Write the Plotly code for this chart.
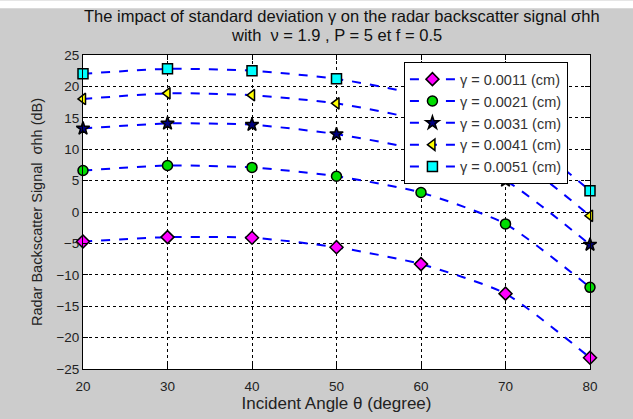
import plotly.graph_objects as go

angles = [20, 30, 40, 50, 60, 70, 80]
labels = ["γ = 0.0011 (cm)", "γ = 0.0021 (cm)", "γ = 0.0031 (cm)", "γ = 0.0041 (cm)", "γ = 0.0051 (cm)"]
s0011 = [-4.7, -4.0, -4.1, -5.6, -8.3, -13.0, -23.2]
s0021 = [6.6, 7.4, 7.1, 5.7, 3.1, -1.9, -12.0]
s0031 = [13.3, 14.1, 13.9, 12.4, 9.8, 5.0, -5.2]
s0041 = [18.0, 18.9, 18.6, 17.3, 14.6, 9.7, -0.6]
s0051 = [22.0, 22.8, 22.5, 21.2, 18.6, 13.8, 3.4]
series = [s0011, s0021, s0031, s0041, s0051]
symbols = ["diamond", "circle", "star", "triangle-left", "square"]
fills = ["#ff00ff", "#00dd00", "#000080", "#ffff00", "#00ffff"]
sizes = [10, 10, 10, 10, 10]
title1 = "The impact of standard deviation γ on the radar backscatter signal σhh"
title2 = "with  ν = 1.9 , P = 5 et f = 0.5"

fig = go.Figure()
for lab, ys, sym, col, sz in zip(labels, series, symbols, fills, sizes):
    fig.add_trace(go.Scatter(
        x=angles, y=ys, name=lab, mode="lines+markers",
        line=dict(color="#0000ff", width=2, dash="dash", shape="spline", smoothing=0.6),
        marker=dict(symbol=sym, size=sz, color=col, line=dict(color="black", width=1.5)),
        cliponaxis=False,
    ))

fig.update_layout(
    width=633, height=419,
    margin=dict(l=83, r=43, t=55, b=42),
    paper_bgcolor="#cccccc", plot_bgcolor="white",
    font=dict(family="Arial, Liberation Sans", size=13, color="#222222"),
    showlegend=True,
    legend=dict(x=0.633, y=0.977, xanchor="left", yanchor="top",
                bgcolor="white", bordercolor="black", borderwidth=1,
                font=dict(size=14.5, color="#333333"), tracegroupgap=0, itemwidth=45),
    shapes=[dict(type="rect", xref="paper", yref="paper", x0=-83 / 507, x1=1 + 43 / 507,
                 y0=1 + (55 - 7) / 322, y1=1 + 56 / 322, fillcolor="white", line=dict(width=0),
                 layer="below")],
    annotations=[
        dict(text=title1, xref="paper", yref="paper", x=0.51, y=1 + (55 - 15) / 322,
             xanchor="center", yanchor="middle", showarrow=False,
             font=dict(size=16.5, color="#111111")),
        dict(text=title2, xref="paper", yref="paper", x=0.5, y=1 + (55 - 34) / 322,
             xanchor="center", yanchor="middle", showarrow=False,
             font=dict(size=16.5, color="#111111")),
    ],
)
fig.update_xaxes(range=[20, 80], tickvals=[20, 30, 40, 50, 60, 70, 80],
                 showgrid=True, gridcolor="black", griddash="dot", gridwidth=1,
                 showline=True, linecolor="black", linewidth=1, mirror="ticks",
                 ticks="inside", ticklen=5, tickcolor="black", zeroline=False,
                 ticklabelstandoff=5, tickfont=dict(size=13.5),
                 title=dict(text="Incident Angle θ (degree)", standoff=1, font=dict(size=17, color="#222222")))
fig.update_yaxes(range=[-25, 25], tickvals=list(range(-25, 30, 5)),
                 showgrid=True, gridcolor="black", griddash="dot", gridwidth=1,
                 showline=True, linecolor="black", linewidth=1, mirror="ticks",
                 ticks="inside", ticklen=5, tickcolor="black", zeroline=False,
                 tickfont=dict(size=13.5),
                 title=dict(text="Radar Backscatter Signal  σhh (dB)", standoff=10, font=dict(size=14.5, color="#222222")))

fig.write_html("out.html")
